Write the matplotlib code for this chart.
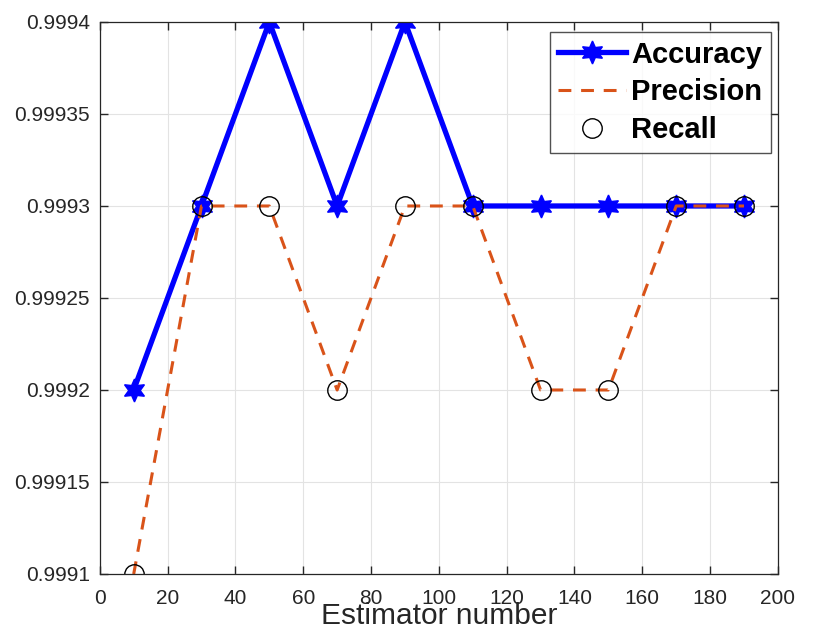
import numpy as np
import matplotlib
matplotlib.use('Agg')
import matplotlib.pyplot as plt

estimators = [10, 30, 50, 70, 90, 110, 130, 150, 170, 190]
accuracy = [0.9992, 0.9993, 0.9994, 0.9993, 0.9994,
            0.9993, 0.9993, 0.9993, 0.9993, 0.9993]
precision = [0.9991, 0.9993, 0.9993, 0.9992, 0.9993,
             0.9993, 0.9992, 0.9992, 0.9993, 0.9993]
recall = [0.9991, 0.9993, 0.9993, 0.9992, 0.9993,
          0.9993, 0.9992, 0.9992, 0.9993, 0.9993]
ytick_vals = [0.9991, 0.99915, 0.9992, 0.99925, 0.9993, 0.99935, 0.9994]
ytick_labels = ['0.9991', '0.99915', '0.9992', '0.99925',
                '0.9993', '0.99935', '0.9994']

fam = ['Liberation Sans', 'DejaVu Sans']
dark = '#262626'

fig = plt.figure(figsize=(8.18, 6.28), dpi=100)
ax = fig.add_axes([0.122, 0.086, 0.829, 0.879])

ax.plot(estimators, accuracy, color='#0000ff', linewidth=3.8,
        marker=(6, 1, 0), markersize=16.5, label='Accuracy')
ax.plot(estimators, precision, color='#D95319', linewidth=2.2,
        linestyle=(0, (4.2, 3.2)), label='Precision')
ax.plot(estimators, recall, linestyle='none', marker='o', markersize=14,
        markerfacecolor='none', markeredgecolor='black',
        markeredgewidth=1.0, label='Recall')

ax.set_xlim(0, 200)
ax.set_ylim(0.9991, 0.9994)
ax.set_xticks(np.arange(0, 201, 20))
ax.set_yticks(ytick_vals)
ax.set_yticklabels(ytick_labels)
ax.grid(True, color='#e3e3e3', linewidth=0.8)
ax.set_axisbelow(True)
ax.tick_params(direction='in', length=6, width=1, color=dark,
               top=True, right=True, labelsize=15, labelcolor=dark)
ax.tick_params(axis='x', pad=11)
ax.tick_params(axis='y', pad=7)
for lbl in ax.get_xticklabels() + ax.get_yticklabels():
    lbl.set_family(fam)
for sp in ax.spines.values():
    sp.set_color(dark)
    sp.set_linewidth(0.9)

ax.set_xlabel('Estimator number', fontsize=21.5, family=fam, color=dark)
ax.xaxis.set_label_coords(0.5, -0.05)

leg = ax.legend(loc='upper right', bbox_to_anchor=(0.99, 0.982),
                prop={'family': fam, 'weight': 'bold', 'size': 21},
                frameon=True, fancybox=False, edgecolor=dark,
                handlelength=2.3, handletextpad=0.2, borderpad=0.3,
                labelspacing=0.33, borderaxespad=0)
leg.get_frame().set_linewidth(1.0)

fig.savefig('out.png', dpi=100)
